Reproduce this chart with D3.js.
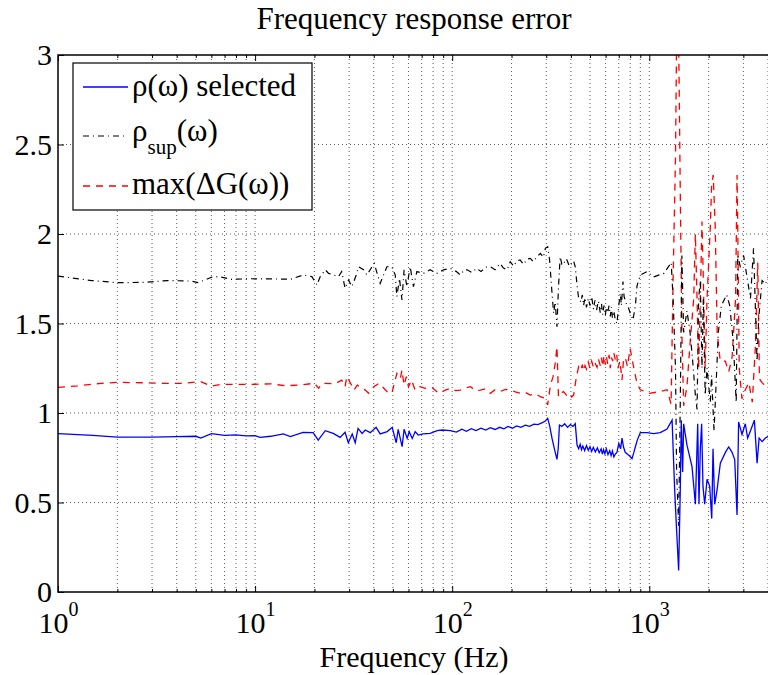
<!DOCTYPE html>
<html>
<head>
<meta charset="utf-8">
<script src="https://cdn.jsdelivr.net/npm/d3@7/dist/d3.min.js"></script>
<style>
    body { margin: 0; background: #fff; }
    #chart { width: 768px; height: 675px; }
    text { font-family: "Liberation Serif", "Times New Roman", serif; fill: #000; }
</style>
</head>
<body>
<div id="chart"></div>
<script>
//Datos (Hz, valor)
const freqSel = [
    1, 1.5, 2, 3, 4, 5, 5.3, 6, 7, 8,
    9, 10, 10.6, 12, 13.9, 15.1, 17.5, 19.7, 20.9, 22.7,
    24.9, 27, 28.6, 29.7, 31.1, 32.2, 33.3, 34.9, 36.2, 38.4,
    41.1, 43.1, 46.8, 49.6, 52, 53.2, 55.7, 57, 59.1, 60.5,
    62.7, 64.9, 67.2, 71.2, 77.3, 83.9, 88.9, 97.7, 105, 112,
    118, 125, 132, 140, 148, 156, 165, 174, 183, 192,
    202, 212, 223, 235, 247, 260, 272, 285, 297, 305,
    312, 321, 330, 340, 345, 350, 360, 372, 385, 398,
    410, 421, 430, 438, 446, 453, 460, 470, 480, 490,
    500, 510, 520, 532, 545, 557, 570, 578, 586, 595,
    605, 617, 630, 640, 650, 661, 672, 685, 700, 715,
    727, 740,
    755, 775, 795, 817, 835, 849, 870, 900, 973, 1050,
    1137, 1230, 1305, 1345, 1372, 1409, 1436, 1453, 1476, 1494,
    1553, 1647, 1713, 1760, 1787, 1815, 1843, 1872, 1910, 1963,
    2025, 2074, 2105, 2147, 2207, 2293, 2432, 2528, 2630, 2712,
    2787, 2839, 2953, 3069, 3154, 3258, 3413, 3523, 3607, 3735,
    3883, 4018, 4096
];
const rhoSel = [
    0.885, 0.875, 0.865, 0.865, 0.868, 0.870, 0.860, 0.885, 0.875, 0.878,
    0.872, 0.873, 0.864, 0.870, 0.883, 0.868, 0.892, 0.890, 0.849, 0.901,
    0.886, 0.864, 0.892, 0.834, 0.883, 0.834, 0.914, 0.886, 0.905, 0.890,
    0.920, 0.883, 0.896, 0.920, 0.834, 0.909, 0.812, 0.909, 0.858, 0.896,
    0.858, 0.896, 0.877, 0.883, 0.886, 0.901, 0.905, 0.901, 0.893, 0.910,
    0.898, 0.912, 0.902, 0.915, 0.905, 0.918, 0.908, 0.920, 0.912, 0.925,
    0.915, 0.928, 0.920, 0.932, 0.925, 0.938, 0.935, 0.945, 0.955, 0.970,
    0.930, 0.858, 0.800, 0.741, 0.800, 0.933, 0.925, 0.940, 0.920, 0.935,
    0.925, 0.940, 0.821, 0.800, 0.825, 0.795, 0.815, 0.790, 0.818, 0.792,
    0.812, 0.785, 0.808, 0.782, 0.805, 0.778, 0.800, 0.770, 0.795, 0.772,
    0.800, 0.768, 0.790, 0.762, 0.788, 0.755, 0.770, 0.780, 0.830, 0.800,
    0.860, 0.810,
    0.780, 0.770, 0.760, 0.745, 0.780, 0.810, 0.850, 0.890, 0.890, 0.885,
    0.890, 0.910, 0.960, 0.570, 0.370, 0.120, 0.570, 0.960, 0.670, 0.940,
    0.820, 0.700, 0.490, 0.940, 0.490, 0.800, 0.940, 0.590, 0.490, 0.630,
    0.590, 0.410, 0.800, 0.490, 0.570, 0.720, 0.780, 0.810, 0.780, 0.740,
    0.430, 0.950, 0.880, 0.940, 0.860, 0.900, 0.960, 0.720, 0.860, 0.840,
    0.860, 0.870, 0.865
];

const freqSup = [
    1, 1.48, 2, 2.75, 3.6, 4.75, 5.13, 6, 6.5, 7.6,
    9.6, 12.4, 15.1, 17.6, 19.4, 20.6, 21.4, 22.7, 23.6, 26.5,
    27.5, 28.6, 29.8, 31, 32.6, 33.5, 35.5, 36.9, 40.2, 41.1,
    43.1, 46.6, 49.4, 51.4, 52.4, 54, 55.6, 57, 58.9, 61.2,
    63.6, 66.2, 71.5, 77.3, 83.6, 90.4, 97.7, 105, 110, 115,
    119, 126, 133, 140, 148, 156, 165, 175, 182, 190,
    197, 205, 213, 221, 230, 240, 249, 258, 268, 280,
    290, 297, 305, 312, 321, 327, 333, 340, 346, 353,
    360, 367, 375, 382, 393, 405, 413, 421, 430, 438,
    450, 457, 464, 472, 480, 490, 500, 510, 521, 530,
    540, 552, 564, 572, 580, 589, 598, 606, 615, 625,
    634, 642, 650, 661, 672, 685, 700, 712, 722, 735,
    745, 755,
    770, 785, 805, 826, 850, 866, 900, 973, 1050, 1186,
    1292, 1320, 1358, 1376, 1409, 1436, 1463, 1494, 1553, 1610,
    1660, 1713, 1747, 1780, 1815, 1850, 1880, 1920, 1963, 2040,
    2070, 2130, 2180, 2240, 2320, 2470, 2560, 2670, 2760, 2810,
    2890, 3010, 3130, 3260, 3380, 3520, 3590, 3735, 3880, 4020,
    4096
];
const rhoSup = [
    1.765, 1.740, 1.728, 1.730, 1.740, 1.737, 1.728, 1.758, 1.762, 1.747,
    1.750, 1.749, 1.747, 1.771, 1.762, 1.715, 1.762, 1.800, 1.780, 1.762,
    1.790, 1.697, 1.743, 1.706, 1.771, 1.817, 1.800, 1.771, 1.836, 1.800,
    1.724, 1.817, 1.817, 1.771, 1.650, 1.752, 1.631, 1.800, 1.706, 1.817,
    1.706, 1.790, 1.780, 1.800, 1.780, 1.800, 1.808, 1.790, 1.771, 1.800,
    1.800, 1.785, 1.808, 1.790, 1.815, 1.817, 1.800, 1.836, 1.810, 1.800,
    1.845, 1.820, 1.850, 1.855, 1.830, 1.860, 1.864, 1.845, 1.870, 1.892,
    1.870, 1.920, 1.929, 1.855, 1.668, 1.557, 1.620, 1.482, 1.700, 1.873,
    1.830, 1.826, 1.860, 1.855, 1.820, 1.836, 1.850, 1.817, 1.715, 1.640,
    1.620, 1.660, 1.600, 1.645, 1.590, 1.640, 1.600, 1.650, 1.580, 1.630,
    1.575, 1.625, 1.560, 1.610, 1.550, 1.600, 1.545, 1.590, 1.560, 1.600,
    1.540, 1.590, 1.530, 1.570, 1.520, 1.500, 1.600, 1.668, 1.600, 1.734,
    1.650, 1.630,
    1.600, 1.585, 1.550, 1.520, 1.600, 1.710, 1.770, 1.790, 1.760, 1.780,
    1.840, 1.640, 1.250, 0.670, 0.370, 1.060, 1.880, 1.450, 1.570, 1.450,
    1.290, 1.100, 1.020, 1.640, 1.740, 1.250, 1.640, 1.100, 1.250, 1.060,
    1.210, 0.900, 1.150, 1.450, 1.600, 1.660, 1.600, 1.390, 1.060, 1.880,
    1.820, 1.880, 1.760, 1.640, 1.920, 1.290, 1.530, 1.740, 1.720, 1.760,
    1.750
];

const freqDG = [
    1, 1.26, 1.66, 2, 2.75, 3.4, 4.3, 5.3, 6, 6.7,
    8.2, 9.6, 12, 14.2, 16.6, 20, 21, 21.9, 25.4, 27.5,
    28.6, 29.2, 30.5, 31.7, 33, 35, 36.2, 37.7, 40, 42.5,
    44.2, 46.6, 49.4, 52.4, 54.6, 55.6, 57, 58.5, 60, 62.2,
    64.8, 68.7, 72.9, 78.9, 85.4, 92.3, 97.7, 104, 110, 117,
    124, 131, 139, 147, 156, 165, 175, 186, 197, 209,
    221, 235, 249, 264, 280, 297, 305, 315, 325, 333,
    340, 346, 356, 367, 380, 393, 403, 413, 427, 438,
    450, 457, 464, 472, 480, 490, 500, 510, 521, 530,
    543, 552, 564, 572, 580, 589, 598, 606, 615, 625,
    634, 642, 652, 661, 672, 683, 693, 710, 727, 740,
    755, 775, 799,
    835, 866, 900, 1000, 1137, 1230, 1290, 1320, 1358, 1376,
    1409, 1436, 1463, 1494, 1553, 1610, 1680, 1713, 1747, 1780,
    1815, 1850, 1880, 1920, 1963, 2040, 2070, 2110, 2160, 2210,
    2290, 2430, 2528, 2630, 2740, 2787, 2810, 2860, 2950, 3070,
    3200, 3330, 3460, 3550, 3620, 3735, 3880, 4020, 4096
];
const maxDG = [
    1.143, 1.152, 1.166, 1.171, 1.169, 1.166, 1.166, 1.175, 1.150, 1.160,
    1.160, 1.160, 1.163, 1.152, 1.156, 1.166, 1.138, 1.166, 1.163, 1.184,
    1.147, 1.203, 1.166, 1.128, 1.156, 1.138, 1.128, 1.110, 1.147, 1.166,
    1.147, 1.120, 1.110, 1.221, 1.193, 1.240, 1.156, 1.203, 1.147, 1.184,
    1.128, 1.147, 1.138, 1.143, 1.110, 1.128, 1.138, 1.125, 1.128, 1.140,
    1.147, 1.125, 1.128, 1.135, 1.110, 1.130, 1.120, 1.132, 1.128, 1.118,
    1.110, 1.115, 1.100, 1.108, 1.091, 1.082, 1.045, 1.156, 1.203, 1.277,
    1.370, 1.091, 1.110, 1.120, 1.100, 1.110, 1.090, 1.100, 1.203, 1.259,
    1.240, 1.270, 1.235, 1.265, 1.245, 1.285, 1.250, 1.290, 1.255, 1.280,
    1.255, 1.300, 1.265, 1.310, 1.260, 1.320, 1.270, 1.315, 1.275, 1.325,
    1.250, 1.310, 1.290, 1.335, 1.300, 1.330, 1.250, 1.290, 1.184, 1.300,
    1.310, 1.260, 1.361,
    1.250, 1.166, 1.130, 1.110, 1.120, 1.130, 1.050, 1.740, 2.430, 3.100,
    3.100, 2.230, 1.450, 1.040, 1.150, 1.390, 1.640, 2.000, 1.640, 1.250,
    1.640, 2.070, 1.740, 1.250, 1.640, 2.040, 2.270, 2.330, 2.040, 1.450,
    1.290, 1.290, 1.230, 1.310, 1.640, 2.330, 2.040, 1.250, 1.080, 1.130,
    1.170, 1.060, 1.390, 1.840, 1.190, 1.170, 1.150, 1.170, 1.160
];

const yTicks = [0, 0.5, 1, 1.5, 2, 2.5, 3];
const xDecades = [1, 10, 100, 1000];
const legendLabels = ['ρ(ω) selected', 'ρ_sup(ω)', 'max(ΔG(ω))'];

//Colores
const COLOR_SEL = '#0000ff', COLOR_SUP = '#000000', COLOR_DG = '#ff0000';

let margin = {top: 55, left: 58},
    width = 712,
    height = 537;

let svg = d3.select('#chart')
    .append('svg')
        .attr('width', 768)
        .attr('height', 675);

let g = svg.append('g')
    .attr('transform', 'translate(' + margin.left + ',' + margin.top + ')');

let x = d3.scaleLog()
    .domain([1, 4096])
    .range([0, width]);

let y = d3.scaleLinear()
    .domain([0, 3])
    .range([height, 0]);

let minorTicks = x.ticks().filter(function(d) { return xDecades.indexOf(d) < 0; });

//Rejilla
g.append('g')
    .selectAll('line')
    .data(x.ticks().filter(function(d) { return d > 1; }))
    .enter()
    .append('line')
    .attr('x1', function(d) { return x(d); })
    .attr('x2', function(d) { return x(d); })
    .attr('y1', 0)
    .attr('y2', height)
    .attr('stroke', '#333')
    .attr('stroke-width', 0.8)
    .attr('stroke-dasharray', '1,3');

g.append('g')
    .selectAll('line')
    .data(yTicks.filter(function(d) { return d > 0 && d < 3; }))
    .enter()
    .append('line')
    .attr('x1', 0)
    .attr('x2', width)
    .attr('y1', function(d) { return y(d); })
    .attr('y2', function(d) { return y(d); })
    .attr('stroke', '#333')
    .attr('stroke-width', 0.8)
    .attr('stroke-dasharray', '1,3');

//Lineas
g.append('clipPath')
    .attr('id', 'clip')
    .append('rect')
    .attr('width', width)
    .attr('height', height);

let line = d3.line()
    .x(function(d) { return x(d[0]); })
    .y(function(d) { return y(d[1]); });

let series = [
    {f: freqSel, v: rhoSel, color: COLOR_SEL, dash: null, w: 1.3},
    {f: freqSup, v: rhoSup, color: COLOR_SUP, dash: '6,4,1,4', w: 1.2},
    {f: freqDG, v: maxDG, color: COLOR_DG, dash: '7,6', w: 1.3}
];

g.append('g')
    .attr('clip-path', 'url(#clip)')
    .selectAll('path')
    .data(series.slice().reverse())
    .enter()
    .append('path')
    .attr('d', function(s) { return line(d3.zip(s.f, s.v)); })
    .attr('fill', 'none')
    .attr('stroke', function(s) { return s.color; })
    .attr('stroke-width', function(s) { return s.w; })
    .attr('stroke-dasharray', function(s) { return s.dash; });

//Ejes
let xAxis = g.append('g')
    .attr('transform', 'translate(0,' + height + ')')
    .call(d3.axisBottom(x).tickValues(xDecades).tickSizeInner(-6).tickSizeOuter(0).tickPadding(20).tickFormat(function() { return '10'; }));

xAxis.selectAll('.tick text')
    .attr('font-size', 30)
    .append('tspan')
    .attr('dy', '-17')
    .attr('font-size', 20)
    .text(function(d) { return Math.round(Math.log10(d)); });

g.append('g')
    .attr('transform', 'translate(0,' + height + ')')
    .call(d3.axisBottom(x).tickValues(minorTicks).tickSizeInner(-3).tickSizeOuter(0).tickFormat(''));

g.append('g')
    .call(d3.axisTop(x).tickValues(xDecades).tickSizeInner(-6).tickSizeOuter(0).tickFormat(''));

g.append('g')
    .call(d3.axisTop(x).tickValues(minorTicks).tickSizeInner(-3).tickSizeOuter(0).tickFormat(''));

let yAxis = g.append('g')
    .call(d3.axisLeft(y).tickValues(yTicks).tickSizeInner(-6).tickSizeOuter(0).tickPadding(6).tickFormat(function(d) { return String(d); }));

yAxis.selectAll('.tick text').attr('font-size', 30);

svg.selectAll('.domain').remove();
svg.selectAll('.tick line').attr('stroke', '#000');
svg.selectAll('.tick text').attr('fill', '#000').attr('font-family', '"Liberation Serif", serif');

//Marco
g.append('path')
    .attr('d', 'M' + width + ',0H0V' + height + 'H' + width)
    .attr('fill', 'none')
    .attr('stroke', '#000')
    .attr('stroke-width', 1.5);

//Titulos
svg.append('text')
    .attr('x', margin.left + width / 2)
    .attr('y', 29)
    .attr('text-anchor', 'middle')
    .attr('font-size', 31)
    .text('Frequency response error');

svg.append('text')
    .attr('x', margin.left + width / 2)
    .attr('y', 667)
    .attr('text-anchor', 'middle')
    .attr('font-size', 30)
    .text('Frequency (Hz)');

//Leyenda
let legend = svg.append('g').attr('transform', 'translate(73,63)');

legend.append('rect')
    .attr('width', 239)
    .attr('height', 147)
    .attr('fill', '#fff')
    .attr('stroke', '#000')
    .attr('stroke-width', 1.2);

let rowLine = [24, 73, 123], rowText = [33, 78, 131];

series.forEach(function(s, i) {
    legend.append('line')
        .attr('x1', 10).attr('x2', 55)
        .attr('y1', rowLine[i]).attr('y2', rowLine[i])
        .attr('stroke', s.color)
        .attr('stroke-width', s.w)
        .attr('stroke-dasharray', s.dash);

    let t = legend.append('text')
        .attr('x', 59)
        .attr('y', rowText[i])
        .attr('font-family', '"Liberation Serif", serif')
        .attr('font-size', 31);

    let parts = legendLabels[i].split('_');
    if (parts.length > 1) {
        t.append('tspan').text(parts[0]);
        t.append('tspan').attr('dy', 13).attr('font-size', 21).text(parts[1].slice(0, 3));
        t.append('tspan').attr('dy', -13).text(parts[1].slice(3));
    } else {
        t.text(legendLabels[i]);
    }
});
</script>
</body>
</html>
